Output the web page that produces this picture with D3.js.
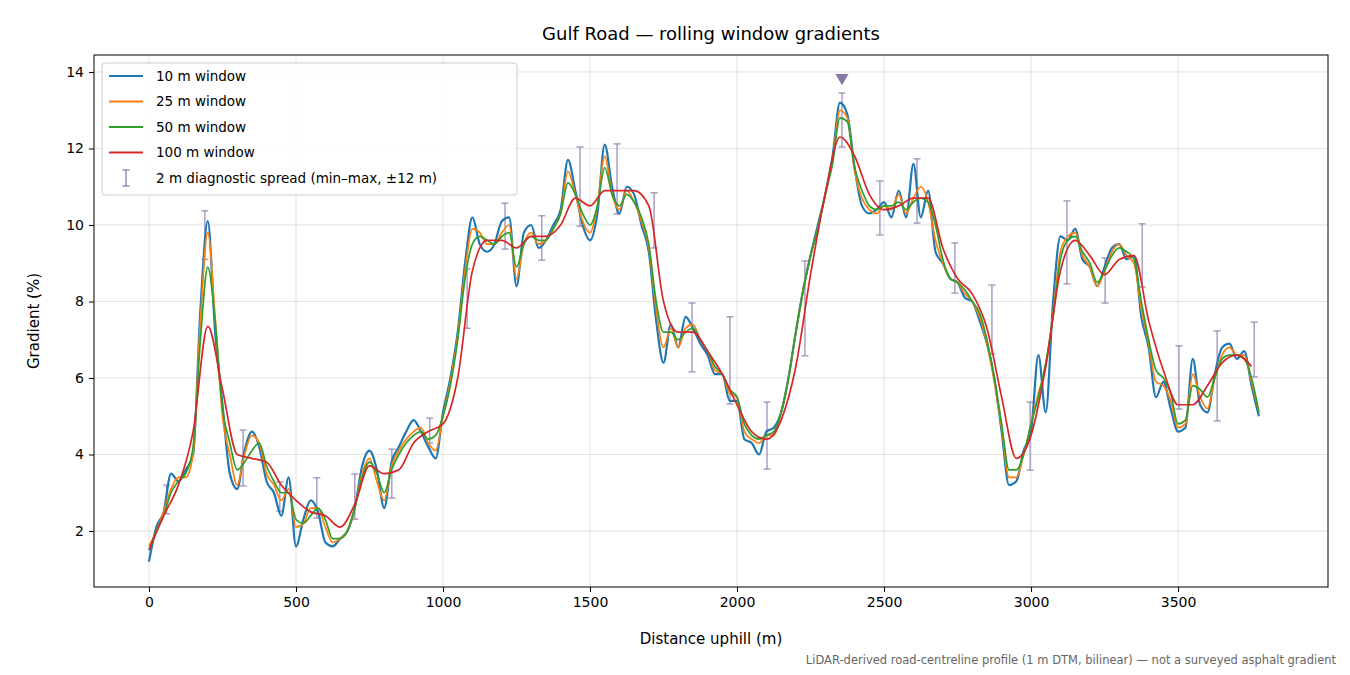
<!DOCTYPE html>
<html><head><meta charset="utf-8">
<script src="https://cdn.jsdelivr.net/npm/d3@7"></script>
<style>body{margin:0;background:#fff;font-family:"DejaVu Sans",sans-serif}</style>
</head><body><svg id="c" width="1350" height="675"></svg>
<script>
const STEP25 = 25;
const w10 = [1.2,2.1,2.5,3.5,3.3,3.6,4.0,7.8,10.1,7.2,5.3,3.5,3.1,4.1,4.6,4.2,3.3,3.0,2.4,3.4,1.6,2.3,2.8,2.5,1.7,1.6,1.8,2.0,2.6,3.7,4.1,3.6,2.6,3.8,4.2,4.6,4.9,4.6,4.2,3.9,5.1,6.0,7.2,9.0,10.2,9.5,9.3,9.5,10.1,10.2,8.4,9.8,10.0,9.4,9.6,10.0,10.4,11.7,10.9,10.0,9.6,10.3,12.1,11.0,10.3,11.0,10.8,10.0,9.3,7.5,6.4,7.4,6.8,7.6,7.3,6.9,6.6,6.1,6.1,5.4,5.4,4.4,4.3,4.0,4.6,4.7,5.1,6.0,7.2,8.3,9.2,10.0,10.8,11.8,13.2,12.9,11.5,10.5,10.3,10.4,10.6,10.2,10.9,10.2,11.6,10.2,10.9,9.3,9.0,8.6,8.5,8.1,8.0,7.5,6.9,6.0,4.6,3.2,3.3,4.1,4.6,6.6,5.1,8.0,9.7,9.6,9.9,9.1,8.9,8.4,8.9,9.4,9.5,9.1,9.2,7.6,6.8,5.5,5.9,5.2,4.6,4.7,6.5,5.3,5.1,6.1,6.8,6.9,6.5,6.7,5.8,5.0];
const w25 = [1.6,2.0,2.5,3.1,3.4,3.4,4.0,7.5,9.8,7.6,5.0,4.0,3.2,4.0,4.5,4.3,3.5,3.2,2.8,3.1,2.1,2.2,2.6,2.6,2.1,1.7,1.8,2.0,2.6,3.5,3.9,3.3,2.8,3.7,4.1,4.4,4.6,4.7,4.3,4.1,5.0,5.9,7.1,8.8,9.9,9.8,9.5,9.5,9.8,10.0,8.6,9.5,9.8,9.5,9.6,9.9,10.3,11.4,10.8,10.1,9.8,10.5,11.8,10.8,10.4,10.9,10.6,10.1,9.4,7.8,6.8,7.3,6.8,7.3,7.4,7.0,6.7,6.2,6.1,5.6,5.5,4.6,4.4,4.3,4.5,4.5,5.1,6.0,7.2,8.3,9.2,9.9,10.8,11.7,13.0,12.8,11.4,10.7,10.4,10.3,10.5,10.4,10.8,10.3,10.7,11.0,10.6,9.6,9.0,8.6,8.5,8.2,8.0,7.6,6.9,5.9,4.7,3.4,3.4,4.0,4.8,5.6,6.3,7.7,9.3,9.7,9.8,9.2,8.9,8.4,8.8,9.3,9.5,9.2,9.0,7.8,6.9,5.9,5.8,5.4,4.7,4.8,6.1,5.5,5.2,6.0,6.6,6.8,6.6,6.6,5.9,5.1];
const w50 = [1.5,2.0,2.4,3.0,3.3,3.5,4.2,7.0,8.9,7.5,5.2,4.3,3.6,3.8,4.1,4.3,3.7,3.3,3.0,3.0,2.3,2.2,2.4,2.6,2.3,1.8,1.8,2.0,2.6,3.4,3.8,3.5,3.0,3.6,4.0,4.3,4.5,4.6,4.4,4.5,5.0,5.8,7.0,8.6,9.5,9.7,9.6,9.5,9.7,9.8,8.9,9.5,9.7,9.6,9.6,9.9,10.3,11.1,10.8,10.3,10.0,10.5,11.5,10.8,10.5,10.8,10.6,10.2,9.5,8.0,7.2,7.2,7.0,7.2,7.3,7.0,6.7,6.3,6.1,5.7,5.5,4.8,4.5,4.4,4.5,4.6,5.1,6.0,7.2,8.3,9.2,9.9,10.8,11.6,12.8,12.7,11.5,10.9,10.5,10.4,10.5,10.5,10.6,10.4,10.6,10.7,10.6,10.0,9.1,8.6,8.5,8.3,8.0,7.7,7.0,6.0,4.8,3.6,3.6,4.0,4.8,5.5,6.4,7.6,9.1,9.6,9.7,9.3,9.0,8.5,8.8,9.2,9.4,9.3,9.1,8.0,7.0,6.2,6.0,5.6,4.8,4.9,5.8,5.7,5.5,6.0,6.5,6.6,6.6,6.5,6.0,5.1];
const w100 = [1.5,2.4,3.2,4.6,7.35,5.7,4.0,3.9,3.8,3.2,2.8,2.5,2.4,2.1,2.7,3.7,3.5,3.6,4.3,4.6,4.8,6.0,8.8,9.6,9.6,9.4,9.7,9.7,10.0,10.7,10.5,10.9,10.9,10.9,10.5,8.0,7.2,7.2,6.7,6.1,5.3,4.6,4.4,4.9,6.3,8.7,10.8,12.3,11.8,10.8,10.4,10.5,10.7,10.7,9.4,8.6,8.2,7.3,5.5,3.9,4.5,6.3,8.8,9.6,9.2,8.7,9.1,9.2,7.5,6.2,5.3,5.3,5.8,6.4,6.6,6.3];
const w100x = w100.map((v,i)=> i*50);
const errX = [60,190,320,445,571,700,826,955,1082,1211,1336,1466,1592,1718,1847,1976,2102,2231,2357,2486,2612,2741,2867,2997,3122,3252,3378,3503,3633,3759];
const errHi = [3.2,10.37,4.64,3.28,3.39,3.49,4.14,4.95,8.85,10.57,10.24,12.04,12.12,10.84,7.96,7.6,5.37,9.06,13.45,11.15,11.73,9.53,8.43,5.37,10.63,9.14,10.03,6.84,7.23,7.46];
const errLo = [2.45,9.1,3.18,2.52,2.34,2.31,2.86,4.3,7.3,9.37,9.08,9.97,10.29,9.4,6.16,5.32,3.62,6.58,12.04,9.74,10.05,8.22,6.63,3.59,8.46,7.96,8.38,5.19,4.88,6.03];
const peak = {x:2357, y:13.85};
const xTicks = [0,500,1000,1500,2000,2500,3000,3500];
const yTicks = [2,4,6,8,10,12,14];

const svg = d3.select("#c");
const L=94,R=1328,T=55,B=587;
const x = d3.scaleLinear().domain([-187,4010]).range([L,R]);
const y = d3.scaleLinear().domain([0.536,14.444]).range([B,T]);
const g = svg.append("g");
g.selectAll(".gx").data(xTicks).join("line").attr("x1",d=>x(d)).attr("x2",d=>x(d)).attr("y1",T).attr("y2",B).attr("stroke","#b0b0b0").attr("stroke-opacity",0.35);
g.selectAll(".gy").data(yTicks).join("line").attr("y1",d=>y(d)).attr("y2",d=>y(d)).attr("x1",L).attr("x2",R).attr("stroke","#b0b0b0").attr("stroke-opacity",0.35);
const line = (xs)=>d3.line().x((d,i)=>x(xs(i))).y(d=>y(d)).curve(d3.curveMonotoneX);
const series = [
 {d:w10,c:"#1f77b4",w:2.2,xs:i=>Math.min(i*STEP25,3780),n:"10 m window"},
 {d:w25,c:"#ff7f0e",w:1.7,xs:i=>i*STEP25,n:"25 m window"},
 {d:w50,c:"#2ca02c",w:1.7,xs:i=>i*STEP25,n:"50 m window"},
 {d:w100,c:"#d62728",w:1.7,xs:i=>w100x[i],n:"100 m window"}];
const ec="#9685b3";
const eb = g.append("g").attr("stroke",ec).attr("stroke-opacity",0.85).attr("stroke-width",1.4);
errX.forEach((d,i)=>{
  eb.append("line").attr("x1",x(d)).attr("x2",x(d)).attr("y1",y(errHi[i])).attr("y2",y(errLo[i]));
  [errHi[i],errLo[i]].forEach(v=>eb.append("line").attr("x1",x(d)-3.5).attr("x2",x(d)+3.5).attr("y1",y(v)).attr("y2",y(v)));
});
series.forEach(s=>g.append("path").datum(s.d).attr("d",line(s.xs)).attr("fill","none").attr("stroke",s.c).attr("stroke-width",s.w).attr("stroke-linejoin","round"));
g.append("path").attr("d",d3.symbol(d3.symbolTriangle,75)()).attr("transform",`translate(${x(peak.x)},${y(peak.y)}) rotate(180)`).attr("fill","#8878a8");
svg.append("rect").attr("x",L).attr("y",T).attr("width",R-L).attr("height",B-T).attr("fill","none").attr("stroke","#000").attr("stroke-width",1);
const fmt = d3.format("d");
svg.append("g").attr("transform",`translate(0,${B})`).call(d3.axisBottom(x).tickValues(xTicks).tickFormat(fmt).tickSize(5).tickPadding(5)).call(a=>{a.select(".domain").remove();a.selectAll("text").attr("font-size",14).attr("font-family","DejaVu Sans");});
svg.append("g").attr("transform",`translate(${L},0)`).call(d3.axisLeft(y).tickValues(yTicks).tickFormat(fmt).tickSize(5).tickPadding(5)).call(a=>{a.select(".domain").remove();a.selectAll("text").attr("font-size",14).attr("font-family","DejaVu Sans");});
svg.append("text").attr("x",711).attr("y",40).attr("text-anchor","middle").attr("font-size",18).text("Gulf Road — rolling window gradients");
svg.append("text").attr("x",711).attr("y",644).attr("text-anchor","middle").attr("font-size",15).text("Distance uphill (m)");
svg.append("text").attr("transform","translate(39,321) rotate(-90)").attr("text-anchor","middle").attr("font-size",15).text("Gradient (%)");
svg.append("text").attr("x",1336).attr("y",664).attr("text-anchor","end").attr("font-size",11.5).attr("fill","#666").text("LiDAR-derived road-centreline profile (1 m DTM, bilinear) — not a surveyed asphalt gradient");
const lg = svg.append("g");
lg.append("rect").attr("x",102).attr("y",63).attr("width",415).attr("height",132).attr("rx",3).attr("fill","#fff").attr("fill-opacity",0.85).attr("stroke","#ccc");
series.forEach((s,i)=>{const yy=76+i*25.5;
 lg.append("line").attr("x1",109).attr("x2",143).attr("y1",yy).attr("y2",yy).attr("stroke",s.c).attr("stroke-width",2);
 lg.append("text").attr("x",156).attr("y",yy+4.5).attr("font-size",13.5).text(s.n);});
const ly=178;
lg.append("line").attr("x1",126).attr("x2",126).attr("y1",ly-8).attr("y2",ly+8).attr("stroke",ec).attr("stroke-width",1.4);
[ly-8,ly+8].forEach(v=>lg.append("line").attr("x1",122.5).attr("x2",129.5).attr("y1",v).attr("y2",v).attr("stroke",ec).attr("stroke-width",1.4));
lg.append("text").attr("x",156).attr("y",ly+4.5).attr("font-size",13.5).text("2 m diagnostic spread (min–max, ±12 m)");
</script></body></html>
